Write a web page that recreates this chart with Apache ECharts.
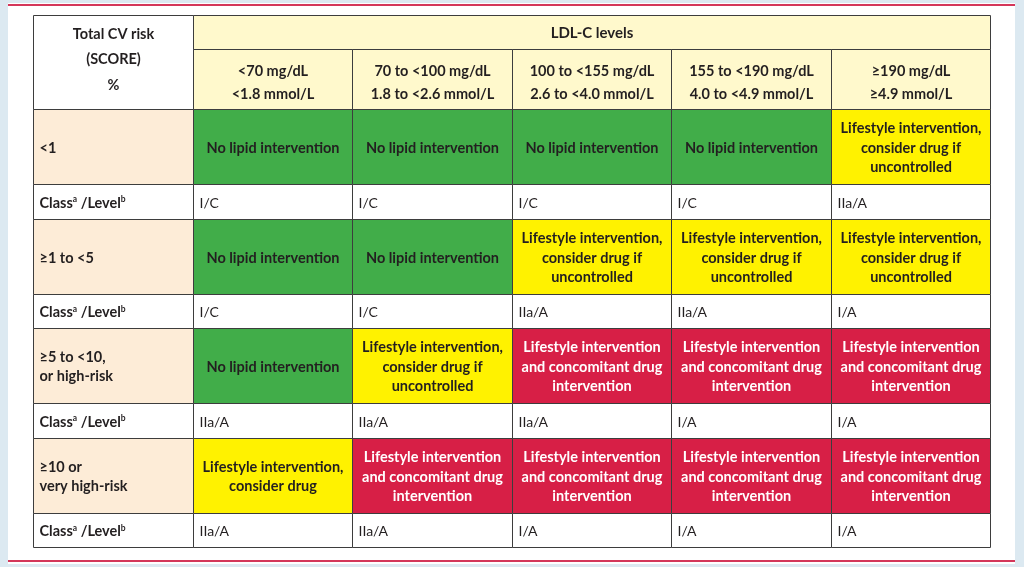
<!DOCTYPE html>
<html><head><meta charset="utf-8">
<script src="https://cdn.jsdelivr.net/npm/echarts@6/dist/echarts.min.js"></script>
<style>html,body{margin:0;padding:0;background:#dce9f1}#c{width:1024px;height:567px}</style>
</head><body><div id="c"></div>
<script>
// ---- data ----
const cornerTitle = ['Total CV risk', '(SCORE)', '%'];
const ldlTitle = 'LDL-C levels';
const ldlMg = ['<70 mg/dL', '70 to <100 mg/dL', '100 to <155 mg/dL', '155 to <190 mg/dL', '\u2265190 mg/dL'];
const ldlMmol = ['<1.8 mmol/L', '1.8 to <2.6 mmol/L', '2.6 to <4.0 mmol/L', '4.0 to <4.9 mmol/L', '\u22654.9 mmol/L'];
const riskLabels = ['<1', '\u22651 to <5', '\u22655 to <10,\nor high-risk', '\u226510 or\nvery high-risk'];
const interventionTexts = {
  N: 'No lipid intervention',
  L: 'Lifestyle intervention,\nconsider drug if\nuncontrolled',
  C: 'Lifestyle intervention,\nconsider drug',
  R: 'Lifestyle intervention\nand concomitant drug\nintervention'
};
const recommendations = [
  ['N', 'N', 'N', 'N', 'L'],
  ['N', 'N', 'L', 'L', 'L'],
  ['N', 'L', 'R', 'R', 'R'],
  ['C', 'R', 'R', 'R', 'R']
];
const classLevels = [
  ['I/C', 'I/C', 'I/C', 'I/C', 'IIa/A'],
  ['I/C', 'I/C', 'IIa/A', 'IIa/A', 'I/A'],
  ['IIa/A', 'IIa/A', 'IIa/A', 'I/A', 'I/A'],
  ['IIa/A', 'IIa/A', 'I/A', 'I/A', 'I/A']
];
const classRowLabel = 'Class{sup|a} /Level{sup|b}';

// ---- styling / layout ----
const FONT = 'Lato, "Open Sans", sans-serif';
const INK = '#231f20';
const fills = { N: '#41ad49', L: '#fff200', C: '#fff200', R: '#d71f46' };
const inks = { N: INK, L: INK, C: INK, R: '#ffffff' };
const CREAM = '#fff9cc', PEACH = '#fdecd7', WHITE = '#ffffff';
const rowHeights = [34, 60, 75, 34.5, 75, 34.5, 75, 34.5, 75, 34.5];
const rowEdges = [0];
rowHeights.forEach(h => rowEdges.push(rowEdges[rowEdges.length - 1] + h));
const TOTAL = rowEdges[rowEdges.length - 1];

const cells = [];
function add(c0, c1, r0, r1, fill, text, color, align, weight, lh, size, dy, rich) {
  cells.push({ c0, c1, r0, r1, fill, text, color, align, weight, lh, size, dy, rich });
}
add(0, 1, 0, 2, WHITE, cornerTitle.join('\n'), INK, 'center', 'bold', 25.5, 14.5, -4);
add(1, 6, 0, 1, CREAM, ldlTitle, INK, 'center', 'bold', 20, 15, 0);
ldlMg.forEach((m, j) => add(j + 1, j + 2, 1, 2, CREAM, m + '\n' + ldlMmol[j], INK, 'center', 'bold', 23, 14.5, 2));
const supRich = { sup: { fontSize: 8.5, fontWeight: 'bold', verticalAlign: 'top', padding: [0, 0, 7, 0], fontFamily: FONT, fill: INK } };
riskLabels.forEach((lab, i) => {
  const r = 2 + i * 2;
  add(0, 1, r, r + 1, PEACH, lab, INK, 'left', 'bold', 19, 14.5, 0);
  recommendations[i].forEach((k, j) => add(j + 1, j + 2, r, r + 1, fills[k], interventionTexts[k], inks[k], 'center', 'bold', 19.5, 14.5, 0));
  add(0, 1, r + 1, r + 2, WHITE, classRowLabel, INK, 'left', 'bold', 16, 14.5, 0, supRich);
  classLevels[i].forEach((v, j) => add(j + 1, j + 2, r + 1, r + 2, WHITE, v, INK, 'left', 'normal', 16, 14, 0));
});

const chart = echarts.init(document.getElementById('c'));
chart.setOption({
  backgroundColor: '#dce9f1',
  animation: false,
  graphic: { elements: [
    { type: 'rect', shape: { x: 8, y: 3, width: 1007, height: 561 }, style: { fill: '#ffffff' }, z: -10 },
    { type: 'rect', shape: { x: 8, y: 4, width: 1007, height: 2 }, style: { fill: '#d4375a' }, z: -9 },
    { type: 'rect', shape: { x: 8, y: 560, width: 1007, height: 2 }, style: { fill: '#d4375a' }, z: -9 }
  ] },
  grid: { left: 33, right: 34, top: 15, height: TOTAL },
  xAxis: { type: 'value', min: 0, max: 6, show: false },
  yAxis: { type: 'value', min: 0, max: TOTAL, inverse: true, show: false },
  series: [{
    type: 'custom',
    clip: false,
    data: cells.map(c => [c.c0, c.c1, rowEdges[c.r0], rowEdges[c.r1]]),
    renderItem: function (params, api) {
      const c = cells[params.dataIndex];
      const p0 = api.coord([api.value(0), api.value(2)]);
      const p1 = api.coord([api.value(1), api.value(3)]);
      const x = Math.round(p0[0]) + 0.5, y = Math.round(p0[1]) + 0.5;
      const w = Math.round(p1[0]) - Math.round(p0[0]), h = Math.round(p1[1]) - Math.round(p0[1]);
      const tx = c.align === 'left' ? x + 6 : x + w / 2;
      return {
        type: 'group',
        children: [
          { type: 'rect', shape: { x, y, width: w, height: h }, style: { fill: c.fill, stroke: '#3d3d3d', lineWidth: 1 } },
          { type: 'text', style: {
              text: c.text, x: tx, y: y + h / 2 + 1 + c.dy, align: c.align, verticalAlign: 'middle',
              fill: c.color, fontSize: c.size, fontWeight: c.weight, fontFamily: FONT, lineHeight: c.lh,
              rich: c.rich
            } }
        ]
      };
    }
  }]
});
</script></body></html>
